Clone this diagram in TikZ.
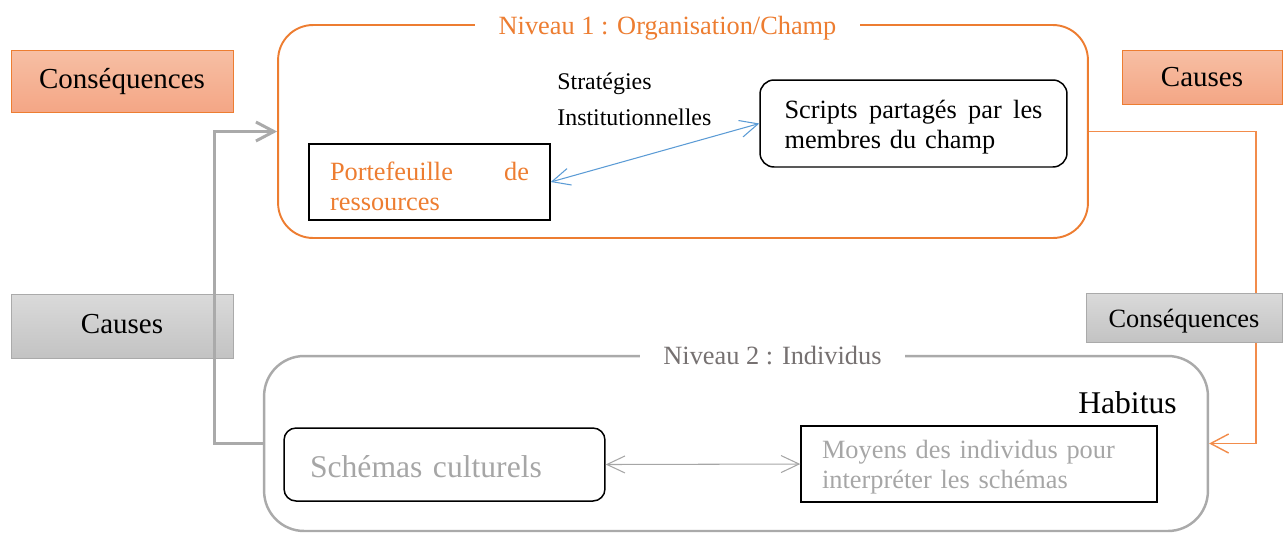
\documentclass[tikz,border=0pt]{standalone}
\usepackage{fontspec}
\setmainfont{Liberation Serif}
\usepackage{xcolor}
\usepackage{tikz}
\usetikzlibrary{shapes, arrows.meta, positioning}

\definecolor{orangeline}{RGB}{237,125,49}
\definecolor{orangetop}{RGB}{247,191,164}
\definecolor{orangebot}{RGB}{244,166,133}
\definecolor{connorange}{RGB}{242,140,75}
\definecolor{greyline}{RGB}{170,170,170}
\definecolor{greytop}{RGB}{218,218,218}
\definecolor{greybot}{RGB}{195,195,195}
\definecolor{greytext}{RGB}{166,166,166}
\definecolor{greytitle}{RGB}{118,113,113}
\definecolor{blueline}{RGB}{91,155,213}

\begin{document}
\begin{tikzpicture}[x=0.02cm, y=-0.02cm]
\tikzstyle{orangebox} = [rectangle, draw=orangeline, line width=0.5pt, top color=orangetop, bottom color=orangebot, text centered, font=\fontsize{16.5}{19}\selectfont]
\tikzstyle{greybox} = [rectangle, draw=greyline, line width=0.5pt, top color=greytop, bottom color=greybot, text centered, font=\fontsize{16.5}{19}\selectfont]
\tikzstyle{niveau} = [rectangle, inner sep=0pt]
\tikzstyle{niveautitle} = [fill=white, inner xsep=0.47cm, font=\fontsize{15}{17}\selectfont]
\tikzstyle{process} = [rectangle, draw=black, line width=0.85pt, inner sep=0pt]
\tikzstyle{boxtext} = [inner sep=0pt, align=left, font=\fontsize{15}{17}\selectfont, yshift=-0.08cm]
\tikzstyle{arrow} = [-{Straight Barb[length=0.36cm, width=0.38cm]}]
\tikzstyle{dblarrow} = [{Straight Barb[length=0.36cm, width=0.34cm]}-{Straight Barb[length=0.36cm, width=0.34cm]}, line width=0.6pt]

\useasboundingbox (0,0) rectangle (1287,532);

% les deux niveaux
\node (niv1) [niveau, draw=orangeline, line width=1.1pt, rounded corners=0.7cm, minimum width=16.2cm, minimum height=4.26cm] at (683,131.5) {};
\node (niv1title) [niveautitle, text=orangeline] at (667.5,28) {Niveau 1 : Organisation/Champ};
\node (niv2) [niveau, draw=greyline, line width=1.4pt, rounded corners=0.8cm, minimum width=18.88cm, minimum height=3.5cm] at (736,443.5) {};
\node (niv2title) [niveautitle, text=greytitle] at (772.5,356) {Niveau 2 : Individus};

\draw [arrow, draw=connorange, line width=0.8pt] (niv1.east) -- ++(167,0) |- (niv2.east);

% causes et consequences
\node (csqorange) [orangebox, minimum width=4.44cm, minimum height=1.24cm] at (122,81) {Conséquences};
\node (causesorange) [orangebox, minimum width=3.2cm, minimum height=1.08cm] at (1202,77) {Causes};
\node (causesgrey) [greybox, minimum width=4.44cm, minimum height=1.28cm, text height=9pt, text depth=1pt] at (122,326) {Causes};
\node (csqgrey) [greybox, minimum width=3.92cm, minimum height=0.98cm, text height=11pt, text depth=0pt, font=\fontsize{15}{17}\selectfont] at (1184,317.5) {Conséquences};

% niveau 1
\node (port) [process, minimum width=4.82cm, minimum height=1.52cm, label={[boxtext, text=orangeline, text width=3.98cm]center:{Portefeuille \hfill de\\ressources}}] at (429.5,182) {};
\node (scripts) [process, rounded corners=0.28cm, minimum width=6.14cm, minimum height=1.74cm, label={[boxtext, text width=5.16cm]center:{Scripts \hfill partagés \hfill par \hfill les\\membres du champ}}] at (913.5,123.5) {};
\node (strat) [anchor=north west, align=left, inner sep=0pt, font=\fontsize{13.6}{20.4}\selectfont] at (557,73) {Stratégies\\Institutionnelles};

% niveau 2
\node (habitus) [anchor=base east, inner sep=0pt, font=\fontsize{18}{21}\selectfont] at (1177,413) {Habitus};
\node (schemas) [process, rounded corners=0.24cm, minimum width=6.42cm, minimum height=1.46cm, label={[boxtext, text=greytext, text width=5.38cm, yshift=0.03cm, font=\fontsize{18}{21}\selectfont]center:{Schémas culturels}}] at (444.5,464.5) {};
\node (moyens) [process, minimum width=7.12cm, minimum height=1.52cm, label={[boxtext, text=greytext, text width=6.28cm, yshift=0.02cm]center:{Moyens des individus pour\\interpréter les schémas}}] at (979,464) {};

\draw [dblarrow, draw=blueline] (port.east) -- (scripts.west);
\draw [dblarrow, draw=greytext] (schemas.east) -- (moyens.west);
\draw [arrow, draw=greyline, line width=1.7pt] (niv2.west) -- ++(-48,0) |- (niv1.west);

\end{tikzpicture}
\end{document}
